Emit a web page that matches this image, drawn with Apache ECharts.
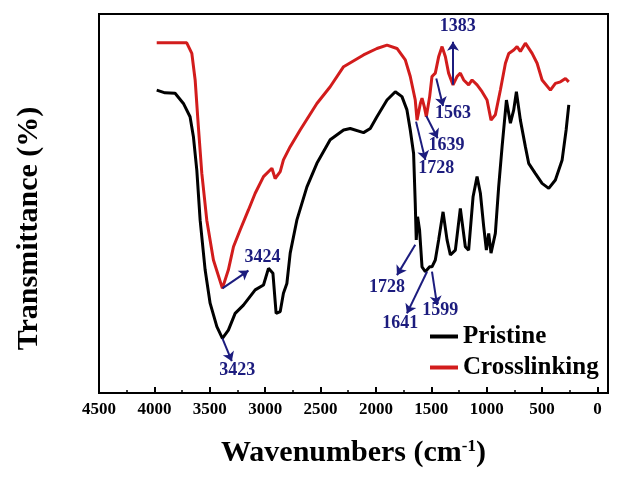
<!DOCTYPE html>
<html>
<head>
<meta charset="utf-8">
<script src="https://cdn.jsdelivr.net/npm/echarts@6/dist/echarts.min.js"></script>
<style>
  html, body { margin: 0; padding: 0; background: #fff; }
  #main { width: 619px; height: 477px; }
</style>
</head>
<body>
<div id="main"></div>
<script>
// wavenumber (cm-1) and transmittance (arb. units)
const pristineWn = [3979,3904,3813,3738,3678,3648,3617,3587,3542,3497,3436,3386,3332,3271,3196,3090,3015,2970,2930,2901,
  2864,2835,2804,2774,2714,2623,2533,2413,2292,2232,2112,2051,1991,1900,1825,1765,1720,1690,1660,1645,
  1636,1624,1606,1584,1554,1515,1494,1464,1434,1394,1358,1328,1283,1238,1193,1163,1123,1087,1057,1027,
  1003,982,961,922,892,861,822,786,756,732,696,651,621,560,500,440,380,319,283,259];
const pristineT = [79.9,79.2,79.1,76.4,72.9,67.7,58.8,45.6,32.5,23.7,17.5,14.4,16.6,21.0,23.2,27.2,28.5,32.9,31.6,21.0,
  21.5,26.3,28.9,36.9,45.6,54.4,60.6,66.8,69.4,69.8,68.7,69.8,72.9,77.3,79.5,78.2,74.7,69.4,63.2,50.0,
  40.4,46.5,43.0,33.3,32.0,33.3,33.3,35.1,40.4,47.8,40.4,36.4,37.7,48.7,38.6,37.7,51.8,57.1,52.7,43.9,
  37.7,42.1,36.9,42.1,54.4,65.0,77.3,71.2,74.7,79.5,72.0,65.0,60.6,57.9,55.3,54.0,56.2,61.5,69.4,76.0];

const crossWn = [3979,3708,3662,3632,3603,3572,3527,3467,3386,3332,3286,3226,3151,3090,3015,2939,2910,2864,2835,2774,
  2684,2533,2413,2292,2112,1991,1900,1810,1735,1690,1645,1629,1599,1584,1563,1545,1515,1494,1464,1434,
  1403,1373,1344,1304,1268,1238,1208,1163,1132,1087,1042,997,961,922,876,831,801,756,726,696,
  651,590,545,500,425,380,334,289,259];
const crossT = [92.4,92.4,89.6,82.6,70.3,58.0,45.6,35.1,27.6,32.5,38.6,43.0,48.3,52.7,57.1,59.3,56.6,58.4,61.5,65.0,
  69.4,76.4,80.8,86.1,89.2,90.9,91.8,90.9,87.9,83.5,77.3,72.0,76.4,77.8,75.5,72.9,78.2,83.5,84.4,88.7,
  91.4,88.7,84.4,81.3,83.5,84.4,82.6,81.3,82.6,81.3,79.5,77.3,72.0,73.4,80.0,87.0,89.6,90.5,91.4,90.1,
  92.3,89.6,87.0,82.6,79.9,81.7,82.1,83.0,82.1];

const majorTicks = [0,500,1000,1500,2000,2500,3000,3500,4000,4500];
const minorTicks = [250,750,1250,1750,2250,2750,3250,3750,4250];

// peak annotations: arrow start, arrow end, label spot (wavenumber, transmittance)
const pristinePeaks = ['3423','1728','1641','1599'];
const pristineFrom = [[3386,14.4],[1645,39.1],[1539,32.0],[1494,32.0]];
const pristineTo = [[3301,8.4],[1810,31.1],[1720,21.0],[1448,23.2]];
const pristineLabelAt = [[3253,6.1],[1900,27.9],[1780,18.5],[1419,21.7]];

const crossPeaks = ['3424','1728','1639','1563','1383'];
const crossFrom = [[3386,27.6],[1638,71.6],[1545,73.1],[1455,83.0],[1304,81.3]];
const crossTo = [[3151,32.3],[1554,61.5],[1443,67.2],[1394,75.7],[1304,92.7]];
const crossLabelAt = [[3024,35.8],[1455,59.3],[1364,65.3],[1305,73.8],[1262,96.7]];

const serif = "'Liberation Serif', 'Times New Roman', serif";
const navy = '#1c1c7e';

function pairs(xs, ys) { return xs.map((x, i) => [x, ys[i]]); }
function arrows(from, to) { return from.map((f, i) => [{ coord: f }, { coord: to[i] }]); }
function tags(at, texts) { return at.map((p, i) => ({ coord: p, name: texts[i] })); }

function annotate(from, to, at, texts) {
  return {
    markLine: {
      silent: true,
      symbol: ['none', 'arrow'],
      symbolSize: 9,
      lineStyle: { color: navy, width: 2, type: 'solid' },
      label: { show: false },
      emphasis: { disabled: true },
      data: arrows(from, to)
    },
    markPoint: {
      silent: true,
      symbol: 'circle',
      symbolSize: 0,
      label: { show: true, position: 'inside', formatter: '{b}', color: navy,
        fontFamily: serif, fontWeight: 'bold', fontSize: 18 },
      data: tags(at, texts)
    }
  };
}

const option = {
  animation: false,
  grid: { left: 99, right: 11, top: 14, bottom: 84, show: true, borderColor: '#000', borderWidth: 2,
    outerBoundsMode: 'none' },
  legend: {
    orient: 'vertical', left: 425, top: 319, itemWidth: 28, itemHeight: 4, itemGap: 6, icon: 'rect',
    textStyle: { fontFamily: serif, fontWeight: 'bold', fontSize: 25, color: '#000' },
    data: ['Pristine', 'Crosslinking']
  },
  xAxis: [
    {
      type: 'value', inverse: true, min: -95, max: 4500, position: 'bottom',
      axisLine: { show: true, onZero: false, lineStyle: { color: '#000', width: 2 } },
      axisTick: { show: true, inside: true, length: 6, customValues: majorTicks, lineStyle: { color: '#000', width: 2 } },
      axisLabel: { customValues: majorTicks, formatter: v => String(v), color: '#000', fontFamily: serif,
        fontWeight: 'bold', fontSize: 17, margin: 8 },
      splitLine: { show: false },
      name: 'Wavenumbers (cm{sup|-1})', nameLocation: 'middle', nameGap: 45,
      nameTextStyle: { color: '#000', fontFamily: serif, fontWeight: 'bold', fontSize: 30,
        rich: { sup: { fontFamily: serif, fontWeight: 'bold', fontSize: 17, verticalAlign: 'top', color: '#000' } } }
    },
    {
      type: 'value', inverse: true, min: -95, max: 4500, position: 'bottom',
      axisLine: { show: false, onZero: false },
      axisTick: { show: true, inside: true, length: 3, customValues: minorTicks, lineStyle: { color: '#000', width: 1.5 } },
      axisLabel: { show: false },
      splitLine: { show: false }
    }
  ],
  yAxis: {
    type: 'value', min: 0, max: 100, position: 'left',
    axisLine: { show: true, onZero: false, lineStyle: { color: '#000', width: 2 } },
    axisTick: { show: false }, axisLabel: { show: false }, splitLine: { show: false },
    name: 'Transmittance (%)', nameLocation: 'middle', nameGap: 55, nameRotate: 90,
    nameTextStyle: { color: '#000', fontFamily: serif, fontWeight: 'bold', fontSize: 30, padding: [0, 50, 0, 0] }
  },
  series: [
    Object.assign({
      name: 'Pristine', type: 'line', symbol: 'none', data: pairs(pristineWn, pristineT),
      lineStyle: { color: '#000', width: 3 }, itemStyle: { color: '#000' }
    }, annotate(pristineFrom, pristineTo, pristineLabelAt, pristinePeaks)),
    Object.assign({
      name: 'Crosslinking', type: 'line', symbol: 'none', data: pairs(crossWn, crossT),
      lineStyle: { color: '#d21c1c', width: 3 }, itemStyle: { color: '#d21c1c' }
    }, annotate(crossFrom, crossTo, crossLabelAt, crossPeaks))
  ]
};

const chart = echarts.init(document.getElementById('main'), null, { renderer: 'canvas' });
chart.setOption(option);
</script>
</body>
</html>
